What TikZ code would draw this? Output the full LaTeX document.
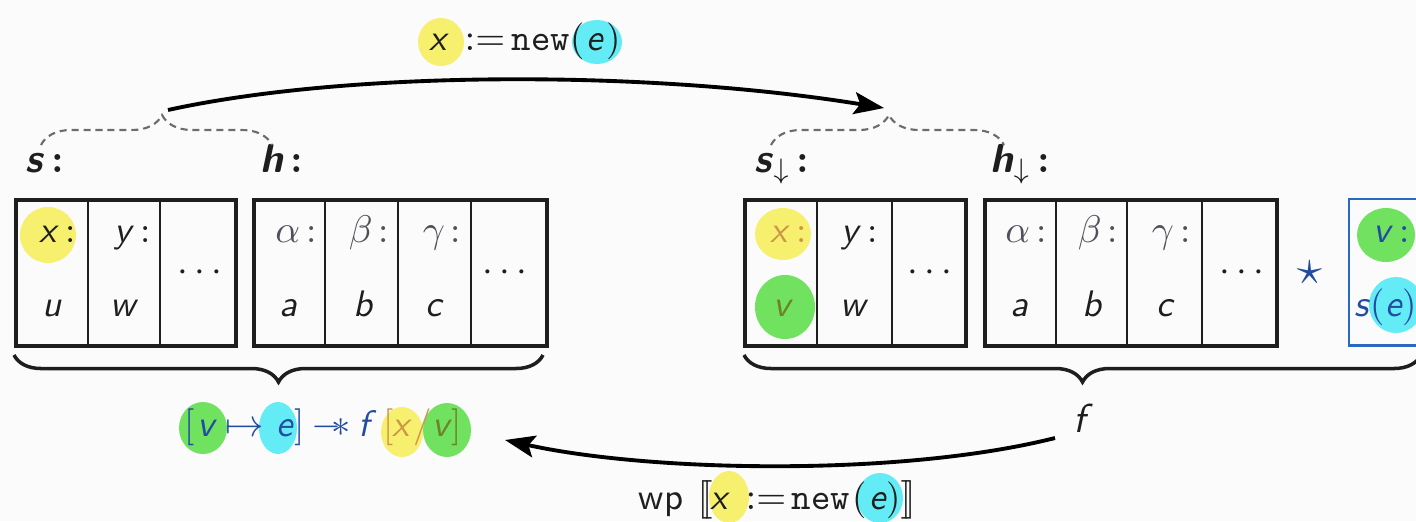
\documentclass[tikz,border=0pt]{standalone}
\usetikzlibrary{arrows.meta,decorations.pathreplacing}
\definecolor{hly}{RGB}{246,240,110}
\definecolor{hlc}{RGB}{100,236,246}
\definecolor{hlg}{RGB}{112,226,96}
\definecolor{sepblue}{RGB}{35,75,160}
\definecolor{boxblue}{RGB}{40,105,195}
\definecolor{faded}{RGB}{205,150,70}
\definecolor{olive}{RGB}{110,130,40}
\definecolor{ink}{RGB}{30,30,30}
\definecolor{greek}{RGB}{80,80,90}
\definecolor{paper}{RGB}{251,251,251}
\newcommand{\vsf}[1]{\textsf{\itshape #1}}
\newcommand{\bsf}[1]{\textsf{\bfseries\itshape #1}}
\begin{document}
\begin{tikzpicture}[x=0.01cm,y=0.01cm,
  txt/.style={inner sep=0pt, anchor=base, font=\fontsize{10.5}{12}\selectfont, text=ink},
  lab/.style={inner sep=0pt, anchor=base, font=\fontsize{11.5}{13}\selectfont, text=ink},
  framebox/.style={draw=ink, line width=1pt, rectangle, inner sep=0pt, anchor=north west, minimum height=1.46cm},
  divider/.style={draw=ink, line width=0.45pt},
  dbrace/.style={draw=gray!85!black, dash pattern=on 2pt off 1.4pt, line width=0.6pt, decorate, decoration={brace, amplitude=0.3cm}},
  cbrace/.style={draw=ink, line width=1pt, decorate, decoration={brace, mirror, amplitude=0.27cm}},
  flow/.style={draw=black, line width=1.1pt, -{Stealth[length=0.3cm,width=0.22cm,inset=0.06cm]}},
  blob/.style={fill=#1, draw=none}
]
\useasboundingbox (0,0) rectangle (1416,-521);
\clip (0,0) rectangle (1416,-521);
\fill[paper] (0,0) rectangle (1416,-521);

% ---------- highlight blobs (drawn first, under the text) ----------
\fill[blob=hly] (441,-42) ellipse [x radius=23, y radius=24];
\fill[blob=hlc] (597,-42) ellipse [x radius=25, y radius=22];
\fill[blob=hly] (48,-235) ellipse [x radius=28, y radius=28];
\fill[blob=hly] (783,-234) ellipse [x radius=28, y radius=26];
\fill[blob=hlg] (785,-307) ellipse [x radius=30, y radius=32];
\fill[blob=hlg] (1386,-235) ellipse [x radius=29, y radius=27];
\fill[blob=hlc] (1396,-305) ellipse [x radius=27, y radius=28];
\fill[blob=hlg] (203,-428) ellipse [x radius=24, y radius=26];
\fill[blob=hlc] (278,-428) ellipse [x radius=19, y radius=26];
\fill[blob=hly] (402,-432) ellipse [x radius=21, y radius=25];
\fill[blob=hlg] (447,-430) ellipse [x radius=24, y radius=27];
\fill[blob=hly] (729,-497) ellipse [x radius=20, y radius=26];
\fill[blob=hlc] (880,-498) ellipse [x radius=23, y radius=25];

% ---------- memory boxes ----------
\node[framebox, minimum width=2.20cm] (sbox) at (14,-198) {};
\node[framebox, minimum width=2.93cm] (hbox) at (252,-198) {};
\node[framebox, minimum width=2.21cm] (sdbox) at (743,-198) {};
\node[framebox, minimum width=2.92cm] (hdbox) at (983,-198) {};
\node[draw=boxblue, line width=0.7pt, rectangle, inner sep=0pt, anchor=north west,
      minimum width=1.0cm, minimum height=1.46cm] (newbox) at (1348,-198) {};
\foreach \c in {88,160,325,398,471,817,892,1056,1127,1202}
  \draw[divider] (\c,-198) -- (\c,-344);

% stack s
\node[txt] (sx) at (58,-242) {\vsf{x}\,:};
\node[txt] (su) at (52,-316) {\vsf{u}};
\node[txt] (sy) at (133,-242) {\vsf{y}\,:};
\node[txt] (sw) at (125,-316) {\vsf{w}};
\node[txt] (sdots) at (200,-281) {$\cdots$};
% heap h
\node[txt, text=greek] (ha) at (296,-242) {$\alpha$\,:};
\node[txt] (hva) at (289,-316) {\vsf{a}};
\node[txt, text=greek] (hb) at (369,-242) {$\beta$\,:};
\node[txt] (hvb) at (364,-316) {\vsf{b}};
\node[txt, text=greek] (hc) at (442,-242) {$\gamma$\,:};
\node[txt] (hvc) at (435,-316) {\vsf{c}};
\node[txt] (hdots) at (505,-281) {$\cdots$};
% stack s_down
\node[txt, text=faded] (dx) at (789,-242) {\vsf{x}\,:};
\node[txt, text=olive] (dv) at (783,-316) {\vsf{v}};
\node[txt] (dy) at (860,-242) {\vsf{y}\,:};
\node[txt] (dw) at (855,-316) {\vsf{w}};
\node[txt] (ddots) at (930,-281) {$\cdots$};
% heap h_down
\node[txt, text=greek] (da) at (1026,-242) {$\alpha$\,:};
\node[txt] (dva) at (1020,-316) {\vsf{a}};
\node[txt, text=greek] (db) at (1098,-242) {$\beta$\,:};
\node[txt] (dvb) at (1093,-316) {\vsf{b}};
\node[txt, text=greek] (dc) at (1171,-242) {$\gamma$\,:};
\node[txt] (dvc) at (1166,-316) {\vsf{c}};
\node[txt] (hddots) at (1242,-281) {$\cdots$};
% separating conjunction and new cell
\node[txt, anchor=center, text=sepblue, font=\fontsize{15}{16}\selectfont] (star) at (1310,-273) {$\star$};
\node[txt, text=sepblue] (nv) at (1392,-242) {\vsf{v}\,:};
\node[txt, text=sepblue, anchor=base west] (ns) at (1354,-316) {\vsf{s}(\vsf{e})};

% ---------- labels above the boxes ----------
\node[lab] (slab) at (45,-172) {\bsf{s}\,\textbf{:}};
\node[lab] (hlab) at (282,-172) {\bsf{h}\,\textbf{:}};
\node[lab] (sdlab) at (782,-172) {\bsf{s}$_{\downarrow}$\,\textbf{:}};
\node[lab] (hdlab) at (1020,-172) {\bsf{h}$_{\downarrow}$\,\textbf{:}};

\draw[dbrace, decoration={aspect=0.524}] (41,-145) -- (272,-145);
\draw[dbrace, decoration={aspect=0.506}] (771,-145) -- (1004,-145);
\coordinate (fromS) at (168,-110);
\coordinate (toS) at (884,-108);

% ---------- braces below the boxes ----------
\draw[cbrace] (14,-355) -- (543,-355);
\draw[cbrace] (744,-355) -- (1421,-355);

% ---------- command label ----------
\node[txt] (cx) at (439,-50) {\vsf{x}};
\node[txt] (cas) at (485,-50) {$:=$};
\node[txt] (cnew) at (541,-50) {\texttt{new}};
\node[txt] (clp) at (578,-50) {(};
\node[txt] (ce) at (595,-50) {\vsf{e}};
\node[txt] (crp) at (614,-50) {)};

% ---------- postcondition f and its weakest precondition ----------
\node[lab] (f) at (1083,-432) {\vsf{f}};
\coordinate (fromF) at (1055,-438);
\coordinate (toF) at (505,-440);

\node[txt, text=sepblue] (p1) at (190,-436) {[};
\node[txt, text=sepblue] (p2) at (207,-436) {\vsf{v}};
\node[txt, text=sepblue] (p3) at (245,-436) {$\mapsto$};
\node[txt, text=sepblue] (p4) at (285,-436) {\vsf{e}};
\node[txt, text=sepblue] (p5) at (300,-436) {]};
\node[txt, text=sepblue] (p6) at (331,-436) {${-}\mkern-5mu{\ast}$};
\node[txt, text=sepblue] (p7) at (368,-436) {\vsf{f}};
\node[txt, text=faded] (p8) at (389,-436) {[};
\node[txt, text=faded] (p9) at (402,-436) {\vsf{x}};
\node[txt, text=faded] (p10) at (423,-436) {/};
\node[txt, text=olive] (p11) at (442,-436) {\vsf{v}};
\node[txt, text=olive] (p12) at (457,-436) {]};

\node[txt] (w1) at (661,-509) {\sffamily wp};
\node[txt] (w2) at (705,-509) {$[\![$};
\node[txt] (w3) at (720,-509) {\vsf{x}};
\node[txt] (w4) at (766,-509) {$:=$};
\node[txt] (w5) at (821,-509) {\texttt{new}};
\node[txt] (w6) at (860,-509) {(};
\node[txt] (w7) at (878,-509) {\vsf{e}};
\node[txt] (w8) at (894,-509) {)};
\node[txt] (w9) at (908,-509) {$]\!]$};

% ---------- transitions ----------
\draw[flow] (fromS) .. controls (350,-70) and (650,-70) .. (toS);
\draw[flow] (fromF) .. controls (900,-477) and (650,-472) .. (toF);
\end{tikzpicture}
\end{document}
